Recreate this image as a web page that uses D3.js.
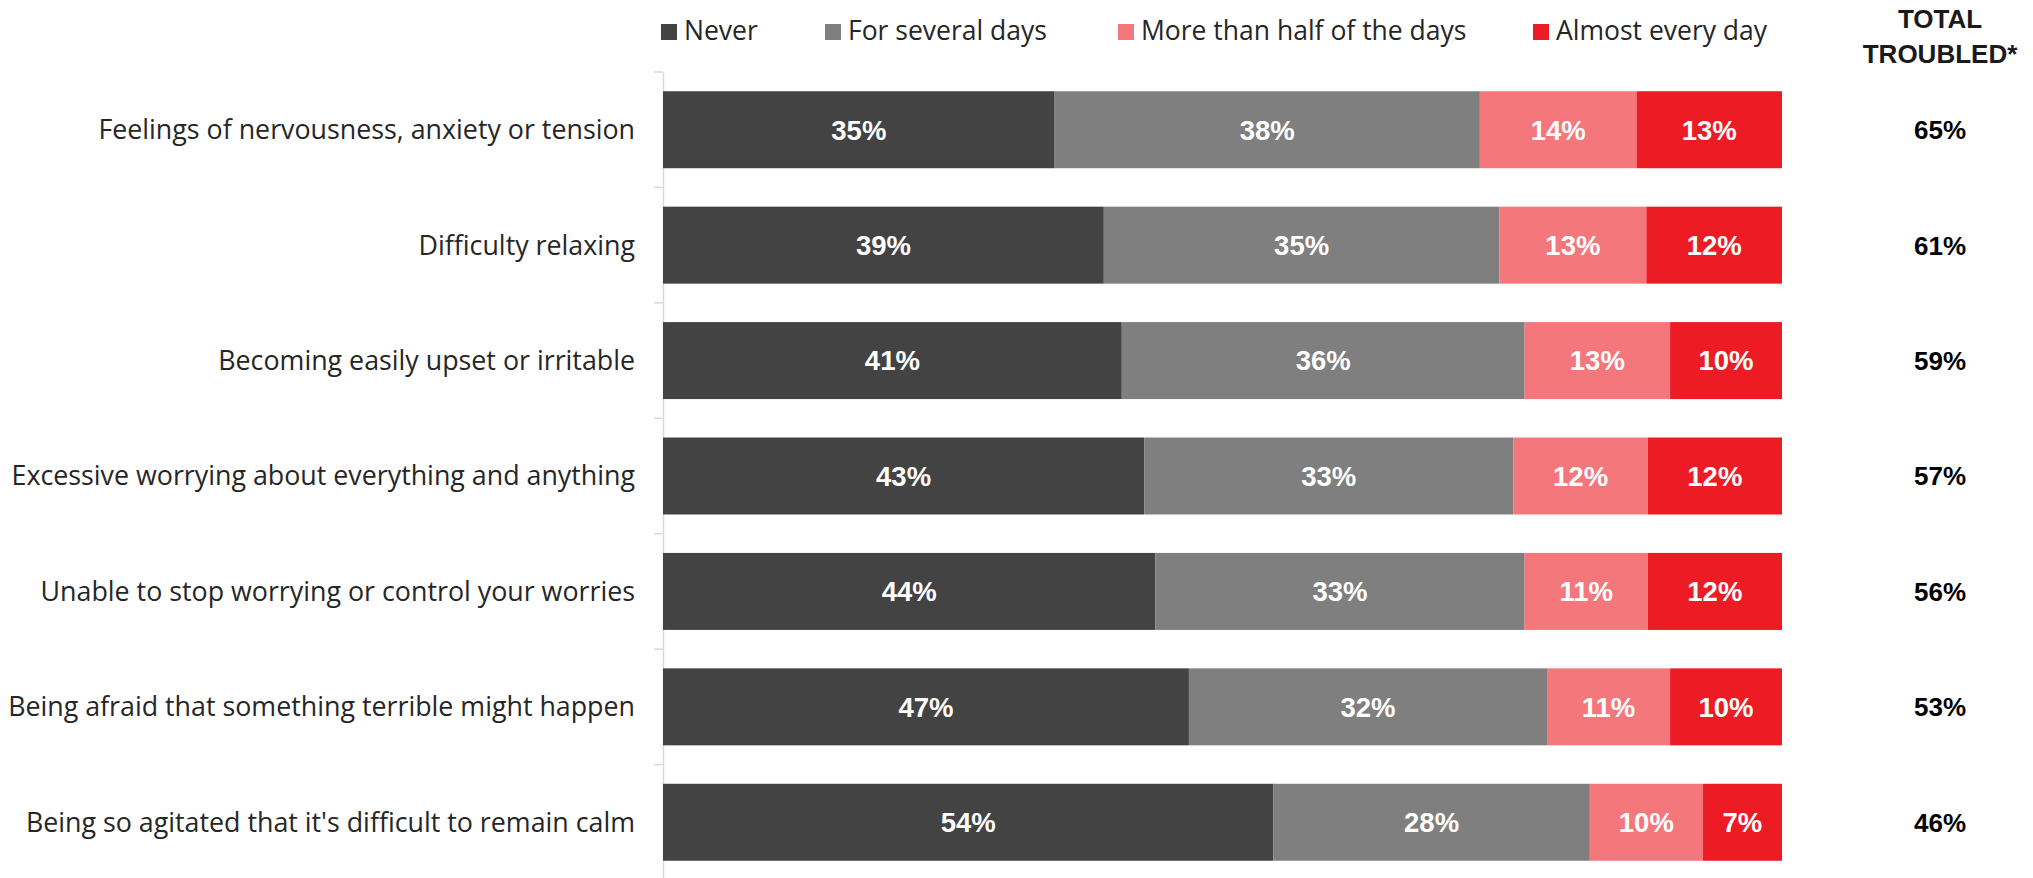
<!DOCTYPE html>
<html>
<head>
<meta charset="utf-8">
<script src="https://cdn.jsdelivr.net/npm/d3@7"></script>
<style>
  html, body { margin: 0; padding: 0; background: #ffffff; }
  svg { display: block; }
</style>
</head>
<body>
<svg id="chart" width="2033" height="878"></svg>
<script>
// Survey items, in display order (top to bottom)
const categories = [
  "Feelings of nervousness, anxiety or tension",
  "Difficulty relaxing",
  "Becoming easily upset or irritable",
  "Excessive worrying about everything and anything",
  "Unable to stop worrying or control your worries",
  "Being afraid that something terrible might happen",
  "Being so agitated that it's difficult to remain calm"
];

// Response frequencies (%)
const seriesNames = ["Never", "For several days", "More than half of the days", "Almost every day"];
const never          = [35, 39, 41, 43, 44, 47, 54];
const severalDays    = [38, 35, 36, 33, 33, 32, 28];
const moreThanHalf   = [14, 13, 13, 12, 11, 11, 10];
const almostEveryDay = [13, 12, 10, 12, 12, 10, 7];

// Share troubled at least several days (%)
const totalTroubled = [65, 61, 59, 57, 56, 53, 46];
const totalHeader = ["TOTAL", "TROUBLED*"];

const colors = ["#434343", "#7f7f7f", "#f4777c", "#ed1c24"];

const rows = categories.map((c, i) => ({
  category: c,
  "Never": never[i],
  "For several days": severalDays[i],
  "More than half of the days": moreThanHalf[i],
  "Almost every day": almostEveryDay[i]
}));

const svg = d3.select("#chart");

const x = d3.scaleLinear().domain([0, 1]).range([663, 1782]);
const y = d3.scaleBand()
  .domain(categories)
  .range([72, 880])
  .paddingInner(0.333)
  .paddingOuter(0.1667);
const color = d3.scaleOrdinal().domain(seriesNames).range(colors);

// Each row is shown as shares of its own total
const stacked = d3.stack().keys(seriesNames).offset(d3.stackOffsetExpand)(rows);

const labelFont = "'Open Sans', 'Noto Sans', sans-serif";
const boldFont = "'Liberation Sans', Arial, sans-serif";

// Category axis: vertical rule with ticks between the categories
const axis = d3.axisLeft(y).tickSize(0).tickSizeOuter(0).tickFormat("");
const axisG = svg.append("g").attr("transform", `translate(${x(0)},0)`).call(axis);
axisG.select(".domain").attr("stroke", "#d9d9d9").attr("stroke-width", 1.5);

const boundaries = d3.range(categories.length + 1).map(i =>
  i === 0 ? y.range()[0] : (i === categories.length ? y.range()[1]
    : y(categories[i]) - y.step() * y.paddingInner() / 2));
axisG.selectAll("line.sep")
  .data(boundaries)
  .join("line")
  .attr("class", "sep")
  .attr("x1", -9).attr("x2", 0)
  .attr("y1", d => d).attr("y2", d => d)
  .attr("stroke", "#d9d9d9")
  .attr("stroke-width", 1.5);

// Category labels
svg.append("g")
  .selectAll("text")
  .data(categories)
  .join("text")
  .attr("x", 635)
  .attr("y", d => y(d) + y.bandwidth() / 2)
  .attr("dy", "0.35em")
  .attr("text-anchor", "end")
  .attr("font-family", labelFont)
  .attr("font-size", 26.8)
  .attr("fill", "#262626")
  .text(d => d);

// Stacked bars
const layers = svg.append("g")
  .selectAll("g")
  .data(stacked)
  .join("g")
  .attr("fill", d => color(d.key));

layers.selectAll("rect")
  .data(d => d)
  .join("rect")
  .attr("x", d => x(d[0]))
  .attr("y", d => y(d.data.category))
  .attr("width", d => x(d[1]) - x(d[0]))
  .attr("height", y.bandwidth());

// Segment value labels
svg.append("g")
  .selectAll("g")
  .data(stacked)
  .join("g")
  .selectAll("text")
  .data(d => d.map(v => ({ v, key: d.key })))
  .join("text")
  .attr("x", d => (x(d.v[0]) + x(d.v[1])) / 2)
  .attr("y", d => y(d.v.data.category) + y.bandwidth() / 2)
  .attr("dy", "0.36em")
  .attr("text-anchor", "middle")
  .attr("font-family", boldFont)
  .attr("font-weight", "bold")
  .attr("font-size", 27.5)
  .attr("fill", "#ffffff")
  .text(d => d.v.data[d.key] + "%");

// Total troubled column
const totalX = 1940;
svg.append("g")
  .selectAll("text")
  .data(totalHeader)
  .join("text")
  .attr("x", totalX)
  .attr("y", (d, i) => 28 + i * 35)
  .attr("text-anchor", "middle")
  .attr("font-family", boldFont)
  .attr("font-weight", "bold")
  .attr("font-size", 26)
  .attr("fill", "#1a1a1a")
  .text(d => d);

svg.append("g")
  .selectAll("text")
  .data(totalTroubled)
  .join("text")
  .attr("x", totalX)
  .attr("y", (d, i) => y(categories[i]) + y.bandwidth() / 2)
  .attr("dy", "0.36em")
  .attr("text-anchor", "middle")
  .attr("font-family", boldFont)
  .attr("font-weight", "bold")
  .attr("font-size", 26)
  .attr("fill", "#000000")
  .text(d => d + "%");

// Legend
const legendX = [661, 825, 1118, 1533];
const legend = svg.append("g")
  .selectAll("g")
  .data(seriesNames)
  .join("g")
  .attr("transform", (d, i) => `translate(${legendX[i]},0)`);

legend.append("rect")
  .attr("x", 0).attr("y", 24)
  .attr("width", 16).attr("height", 16)
  .attr("fill", d => color(d));

legend.append("text")
  .attr("x", 23)
  .attr("y", 40)
  .attr("font-family", labelFont)
  .attr("font-size", 26.5)
  .attr("fill", "#262626")
  .text(d => d);
</script>
</body>
</html>
